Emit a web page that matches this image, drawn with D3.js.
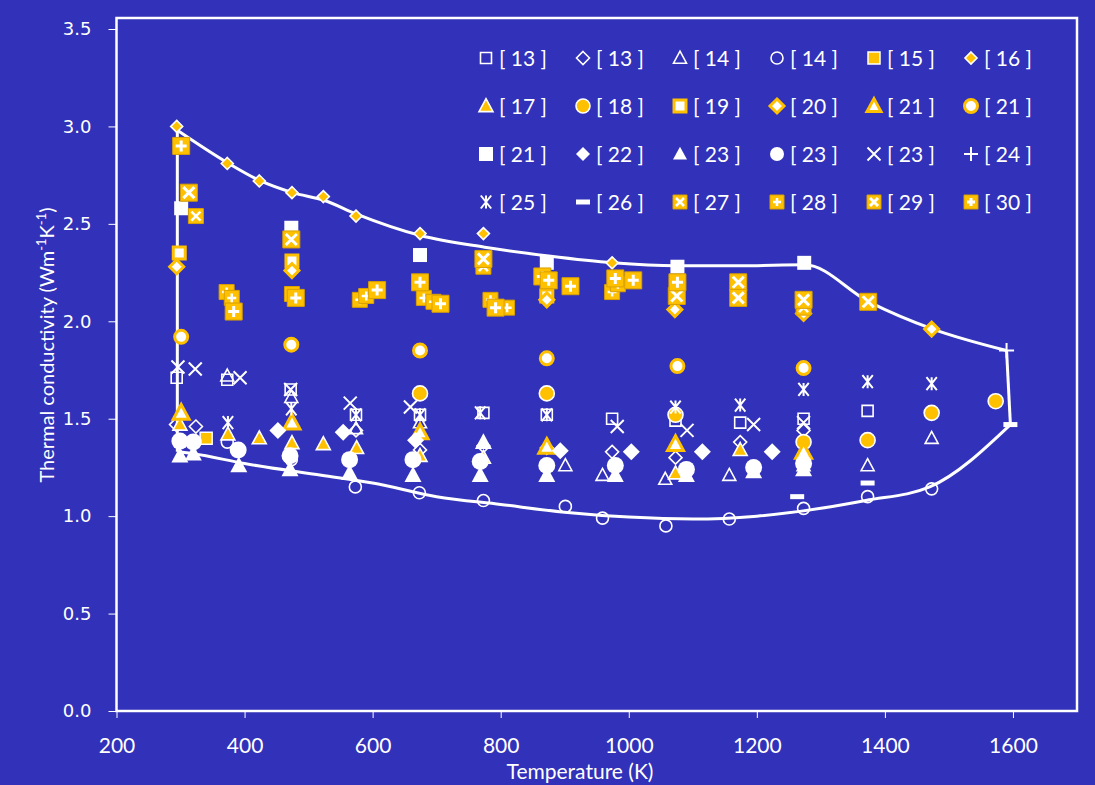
<!DOCTYPE html>
<html>
<head>
<meta charset="utf-8">
<script src="https://cdn.jsdelivr.net/npm/d3@7"></script>
<style>
  body { margin: 0; background: #3131b9; }
  svg { display: block; }
</style>
</head>
<body>
<div id="chart"></div>
<script>
// each point: [temperature (K), thermal conductivity (W/mK)]
const s13 = [[294,1.71],[373,1.70],[472,1.65],[574,1.52],[674,1.52],[773,1.53],[872,1.52],[974,1.50],[1073,1.49],[1174,1.48],[1273,1.50],[1373,1.54]];
const d13 = [[293,1.47],[324,1.46],[574,1.44],[674,1.34],[773,1.36],[872,1.35],[974,1.33],[1073,1.30],[1174,1.38],[1273,1.44]];
const t14 = [[373,1.72],[473,1.61],[574,1.45],[674,1.48],[901,1.26],[959,1.21],[1057,1.19],[1157,1.21],[1273,1.26],[1373,1.26],[1473,1.40]];
const c14 = [[373,1.38],[473,1.29],[573,1.15],[673,1.12],[773,1.08],[901,1.05],[959,0.99],[1058,0.95],[1157,0.985],[1273,1.04],[1373,1.10],[1473,1.14]];
const s15 = [[340,1.40]];
const d16 = [[294,3.00],[373,2.81],[423,2.72],[474,2.66],[523,2.64],[574,2.54],[674,2.45],[773,2.45],[974,2.30]];
const t17 = [[299,1.47],[374,1.42],[423,1.40],[474,1.375],[523,1.37],[575,1.35],[674,1.31],[773,1.30],[1073,1.22],[1174,1.34]];
const c18 = [[674,1.63],[872,1.63],[1073,1.52],[1273,1.38],[1373,1.39],[1473,1.53],[1573,1.59]];
const s19 = [[298,2.35],[474,2.31],[872,2.13]];
const d20 = [[294,2.28],[474,2.26],[674,2.19],[872,2.11],[1072,2.06],[1273,2.04],[1473,1.96]];
const t21 = [[301,1.53],[474,1.48],[674,1.43],[872,1.355],[1073,1.37],[1273,1.33]];
const c21 = [[301,1.92],[473,1.88],[674,1.85],[872,1.81],[1076,1.77],[1273,1.76]];
const s21 = [[301,2.58],[473,2.48],[674,2.34],[872,2.30],[1076,2.28],[1274,2.30]];
const d22 = [[452,1.44],[554,1.43],[667,1.39],[893,1.335],[1004,1.33],[1115,1.33],[1224,1.33]];
const t23 = [[299,1.31],[320,1.32],[391,1.26],[471,1.24],[564,1.22],[663,1.21],[768,1.21],[773,1.38],[872,1.21],[979,1.21],[1090,1.21],[1195,1.23],[1273,1.24]];
const c23 = [[299,1.385],[320,1.38],[390,1.34],[471,1.31],[564,1.29],[663,1.29],[768,1.28],[872,1.26],[979,1.26],[1090,1.24],[1195,1.25],[1273,1.27]];
const x23 = [[296,1.765],[323,1.755],[393,1.71],[472,1.65],[565,1.58],[659,1.56],[982,1.46],[1091,1.44],[1195,1.47],[1273,1.48]];
const p24 = [[1590,1.85]];
const a25 = [[374,1.48],[473,1.55],[574,1.52],[674,1.52],[768,1.53],[872,1.52],[1073,1.56],[1174,1.57],[1273,1.65],[1373,1.69],[1473,1.68]];
const m26 = [[1263,1.10],[1373,1.17],[1596,1.47]];
const x27 = [[324,2.54],[773,2.28],[1273,2.07]];
const p28 = [[372,2.15],[380,2.12],[474,2.14],[580,2.11],[590,2.13],[680,2.12],[695,2.10],[784,2.11],[810,2.07],[974,2.15],[983,2.19]];
const x29 = [[313,2.66],[473,2.42],[773,2.32],[1075,2.13],[1171,2.20],[1171,2.12],[1273,2.11],[1374,2.10]];
const p30 = [[301,2.90],[383,2.05],[480,2.12],[607,2.16],[674,2.20],[706,2.09],[792,2.07],[865,2.23],[875,2.21],[909,2.18],[979,2.22],[1007,2.21],[1076,2.20]];

// envelope around all data
const upperT = [295, 375, 425, 475, 525, 575, 675, 775, 875, 975, 1075, 1175, 1275, 1375, 1475, 1590];
const upperK = [2.98, 2.81, 2.72, 2.66, 2.62, 2.55, 2.44, 2.38, 2.335, 2.30, 2.285, 2.285, 2.29, 2.10, 1.96, 1.85];
const lowerT = [295, 320, 400, 520, 600, 700, 800, 900, 1000, 1100, 1200, 1300, 1370, 1470, 1596];
const lowerK = [1.33, 1.32, 1.27, 1.21, 1.17, 1.10, 1.06, 1.02, 0.995, 0.985, 1.0, 1.04, 1.08, 1.15, 1.47];

const xTicks = [200, 400, 600, 800, 1000, 1200, 1400, 1600];
const yTicks = [0, 0.5, 1.0, 1.5, 2.0, 2.5, 3.0, 3.5];

const GOLD = "#ffc000", WHITE = "#ffffff", BG = "#3131b9";

const series = [
  {label: "13", data: s13, shape: "square",   size: 11, fill: "none", stroke: WHITE, sw: 1.6},
  {label: "13", data: d13, shape: "diamond",  size: 13, fill: "none", stroke: WHITE, sw: 1.6},
  {label: "14", data: t14, shape: "triangle", size: 13, fill: "none", stroke: WHITE, sw: 1.6},
  {label: "14", data: c14, shape: "circle",   size: 12, fill: "none", stroke: WHITE, sw: 1.6},
  {label: "15", data: s15, shape: "square",   size: 12, fill: GOLD, stroke: WHITE, sw: 1.5},
  {label: "16", data: d16, shape: "diamond",  size: 12, fill: GOLD, stroke: WHITE, sw: 1.6},
  {label: "17", data: t17, shape: "triangle", size: 14, fill: GOLD, stroke: WHITE, sw: 1.6},
  {label: "18", data: c18, shape: "circle",   size: 15, fill: GOLD, stroke: WHITE, sw: 1.6},
  {label: "19", data: s19, shape: "square",   size: 12, fill: WHITE, stroke: GOLD, sw: 3},
  {label: "20", data: d20, shape: "diamond",  size: 14, fill: WHITE, stroke: GOLD, sw: 3},
  {label: "21", data: t21, shape: "triangle", size: 16, fill: WHITE, stroke: GOLD, sw: 3},
  {label: "21", data: c21, shape: "circle",   size: 13, fill: WHITE, stroke: GOLD, sw: 3},
  {label: "21", data: s21, shape: "square",   size: 14, fill: WHITE, stroke: "none", sw: 0},
  {label: "22", data: d22, shape: "diamond",  size: 17, fill: WHITE, stroke: "none", sw: 0},
  {label: "23", data: t23, shape: "triangle", size: 17, fill: WHITE, stroke: "none", sw: 0},
  {label: "23", data: c23, shape: "circle",   size: 17, fill: WHITE, stroke: "none", sw: 0},
  {label: "23", data: x23, shape: "x",        size: 13, fill: "none", stroke: WHITE, sw: 2},
  {label: "24", data: p24, shape: "plus",     size: 15, fill: "none", stroke: WHITE, sw: 2},
  {label: "25", data: a25, shape: "asterisk", size: 13, fill: "none", stroke: WHITE, sw: 2},
  {label: "26", data: m26, shape: "dash",     size: 14, fill: WHITE, stroke: "none", sw: 0},
  {label: "27", data: x27, shape: "boxx",     size: 15, fill: GOLD, stroke: WHITE, sw: 2.5},
  {label: "28", data: p28, shape: "boxplus",  size: 15, fill: GOLD, stroke: WHITE, sw: 2.5},
  {label: "29", data: x29, shape: "boxx",     size: 17, fill: GOLD, stroke: WHITE, sw: 3},
  {label: "30", data: p30, shape: "boxplus",  size: 17, fill: GOLD, stroke: WHITE, sw: 3}
];

const width = 1095, height = 785;
const frame = {left: 116.5, right: 1077, top: 18, bottom: 711};

const x = d3.scaleLinear().domain([200, 1700]).range([frame.left, frame.right]);
const y = d3.scaleLinear().domain([0, 3.5]).range([frame.bottom, 29]);

const svg = d3.select("#chart").append("svg")
    .attr("width", width)
    .attr("height", height);

svg.append("rect").attr("width", width).attr("height", height).attr("fill", BG);

// outline of a marker, centred on 0,0
function markerPath(shape, s) {
  const h = s / 2;
  switch (shape) {
    case "square":
    case "boxx":
    case "boxplus":
      return `M${-h},${-h}h${s}v${s}h${-s}Z`;
    case "diamond":
      return `M0,${-h}L${h},0L0,${h}L${-h},0Z`;
    case "triangle":
      return `M0,${-h * 1.05}L${h},${h * 0.8}L${-h},${h * 0.8}Z`;
    case "circle":
      return `M${h},0A${h},${h} 0 1,1 ${-h},0A${h},${h} 0 1,1 ${h},0Z`;
    case "x":
      return `M${-h},${-h}L${h},${h}M${-h},${h}L${h},${-h}`;
    case "plus":
      return `M${-h},0H${h}M0,${-h}V${h}`;
    case "asterisk":
      return `M${-h * 0.8},${-h}L${h * 0.8},${h}M${-h * 0.8},${h}L${h * 0.8},${-h}M0,${-h}V${h}`;
    case "dash":
      return `M${-h},-2.5h${s}v5h${-s}Z`;
  }
}

function drawMarker(g, d) {
  const s = d.size;
  if (d.shape === "boxx" || d.shape === "boxplus") {
    g.append("path")
      .attr("d", markerPath("square", s))
      .attr("fill", d.fill)
      .attr("stroke", "#d9a000")
      .attr("stroke-width", 1)
      .attr("stroke-linejoin", "round");
    const h = s / 2 - 3;
    const inner = d.shape === "boxx"
      ? `M${-h},${-h}L${h},${h}M${-h},${h}L${h},${-h}`
      : `M${-h},0H${h}M0,${-h}V${h}`;
    g.append("path")
      .attr("d", inner)
      .attr("fill", "none")
      .attr("stroke", d.stroke)
      .attr("stroke-width", d.sw);
    return;
  }
  g.append("path")
    .attr("d", markerPath(d.shape, s))
    .attr("fill", d.fill)
    .attr("stroke", d.stroke)
    .attr("stroke-width", d.sw)
    .attr("stroke-linejoin", "miter");
}

// axes
const xAxis = svg.append("g")
    .attr("transform", `translate(0,${frame.bottom})`)
    .call(d3.axisBottom(x).tickValues(xTicks).tickSize(7).tickPadding(10).tickFormat(d3.format("d")));
xAxis.select(".domain").remove();
xAxis.selectAll("line").attr("stroke", WHITE);
xAxis.selectAll("text")
    .attr("fill", WHITE)
    .attr("font-family", "Lato, sans-serif")
    .attr("font-size", 21)
    .attr("dy", 0)
    .attr("y", 42);

const yAxis = svg.append("g")
    .attr("transform", `translate(${frame.left},0)`)
    .call(d3.axisLeft(y).tickValues(yTicks).tickSize(8).tickPadding(17).tickFormat(d3.format(".1f")));
yAxis.select(".domain").remove();
yAxis.selectAll("line").attr("stroke", WHITE);
yAxis.selectAll("text")
    .attr("fill", WHITE)
    .attr("font-family", "DejaVu Sans, sans-serif")
    .attr("font-size", 18);

// plot frame
svg.append("rect")
    .attr("x", frame.left)
    .attr("y", frame.top)
    .attr("width", frame.right - frame.left)
    .attr("height", frame.bottom - frame.top)
    .attr("fill", "none")
    .attr("stroke", WHITE)
    .attr("stroke-width", 2.5);

// envelope
const line = d3.line().x(d => x(d[0])).y(d => y(d[1])).curve(d3.curveMonotoneX);
const seg = d3.line().x(d => x(d[0])).y(d => y(d[1]));
const upper = upperT.map((t, i) => [t, upperK[i]]);
const lower = lowerT.map((t, i) => [t, lowerK[i]]);
const env = svg.append("g").attr("fill", "none").attr("stroke", WHITE).attr("stroke-width", 3);
env.append("path").attr("d", line(upper));
env.append("path").attr("d", line(lower));
env.append("path").attr("d", seg([upper[0], lower[0]]));
env.append("path").attr("d", seg([upper[upper.length - 1], lower[lower.length - 1]]));

// points
const pts = svg.append("g").attr("class", "points");
series.forEach(sr => {
  sr.data.forEach(p => {
    const g = pts.append("g").attr("transform", `translate(${x(p[0])},${y(p[1])})`);
    drawMarker(g, sr);
  });
});

// legend, 6 columns x 4 rows
const legend = svg.append("g").attr("class", "legend");
series.forEach((sr, i) => {
  const col = i % 6, row = Math.floor(i / 6);
  const lg = legend.append("g").attr("transform", `translate(${486 + col * 97},${58 + row * 48})`);
  const m = lg.append("g");
  drawMarker(m, Object.assign({}, sr, {size: Math.min(sr.size, 14)}));
  lg.append("text")
    .attr("x", 13)
    .attr("y", 7.5)
    .attr("fill", WHITE)
    .attr("font-family", "Lato, sans-serif")
    .attr("font-size", 21)
    .attr("xml:space", "preserve")
    .text(`[ ${sr.label} ]`);
});

// axis titles
svg.append("text")
    .attr("x", 580)
    .attr("y", 779)
    .attr("text-anchor", "middle")
    .attr("fill", WHITE)
    .attr("font-family", "Lato, sans-serif")
    .attr("font-size", 21)
    .text("Temperature (K)");

const yt = svg.append("text")
    .attr("transform", "translate(54,345) rotate(-90)")
    .attr("text-anchor", "middle")
    .attr("fill", WHITE)
    .attr("font-family", "Lato, sans-serif")
    .attr("font-size", 20);
yt.append("tspan").text("Thermal conductivity (Wm");
yt.append("tspan").attr("dy", -8).attr("font-size", 13).text("-1");
yt.append("tspan").attr("dy", 8).text("K");
yt.append("tspan").attr("dy", -8).attr("font-size", 13).text("-1");
yt.append("tspan").attr("dy", 8).text(")");
</script>
</body>
</html>
